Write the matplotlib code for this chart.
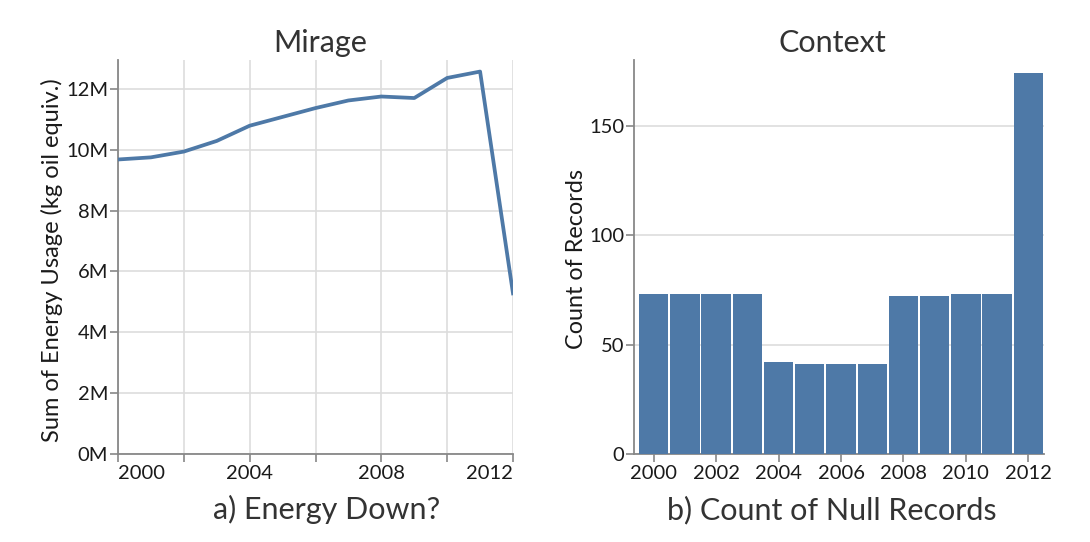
import matplotlib
matplotlib.use("Agg")
import matplotlib.pyplot as plt
import numpy as np

plt.rcParams['font.family'] = ['Lato', 'DejaVu Sans']

years = [2000, 2001, 2002, 2003, 2004, 2005, 2006, 2007, 2008, 2009, 2010, 2011, 2012]
energy_m = [9.68, 9.75, 9.94, 10.29, 10.79, 11.08, 11.37, 11.62, 11.75, 11.70, 12.36, 12.57, 5.28]
null_counts = [73, 73, 73, 73, 42, 41, 41, 41, 72, 72, 73, 73, 174]

left_title = "Mirage"
right_title = "Context"
left_caption = "a) Energy Down?"
right_caption = "b) Count of Null Records"
left_ylabel = "Sum of Energy Usage (kg oil equiv.)"
right_ylabel = "Count of Records"

blue = "#4e79a7"
text_c = "#333333"
label_c = "#1a1a1a"
grid_c = "#dddddd"
axis_c = "#888888"

TICK_FS = 14.5
TITLE_FS = 22

W, H = 1090, 542
fig = plt.figure(figsize=(W / 100, H / 100), dpi=100)

def ax_rect(x0, x1, y0, y1):
    return [x0 / W, 1 - y1 / H, (x1 - x0) / W, (y1 - y0) / H]

def style_axes(ax):
    for s in ['top', 'right']:
        ax.spines[s].set_visible(False)
    for s in ['left', 'bottom']:
        ax.spines[s].set_color(axis_c)
        ax.spines[s].set_linewidth(1.3)
    ax.tick_params(axis='both', colors=axis_c, labelcolor=label_c, labelsize=TICK_FS, length=6, width=1.2)
    ax.tick_params(axis='y', pad=1)
    ax.tick_params(axis='x', pad=2)
    ax.set_axisbelow(True)

# Left chart
ax1 = fig.add_axes(ax_rect(118, 513, 60, 454))
ax1.plot(years, [v * 1e6 for v in energy_m], color=blue, lw=2.7, solid_joinstyle='round', zorder=3)
ax1.set_xlim(2000, 2012)
ax1.set_ylim(0, 12.95e6)
yt = np.arange(0, 13e6, 2e6)
ax1.set_yticks(yt)
ax1.set_yticklabels([f"{int(v/1e6)}M" for v in yt])
ax1.set_xticks([2000, 2002, 2004, 2006, 2008, 2010, 2012])
ax1.set_xticklabels(["2000", "", "2004", "", "2008", "", "2012"])
ax1.grid(True, color=grid_c, lw=1.2, zorder=0)
style_axes(ax1)
xl = ax1.get_xticklabels()
xl[0].set_horizontalalignment('left')
xl[-1].set_horizontalalignment('right')
ax1.set_ylabel(left_ylabel, fontsize=17, color=label_c, labelpad=2.5)
ax1.yaxis.label.set_y(0.491)

# Right chart
ax2 = fig.add_axes(ax_rect(634, 1044, 60, 454))
ax2.bar(years, null_counts, width=0.94, color=blue, zorder=3)
ax2.set_xlim(1999.37, 2012.5)
ax2.set_ylim(0, 180)
ax2.set_yticks([0, 50, 100, 150])
ax2.set_xticks([2000, 2002, 2004, 2006, 2008, 2010, 2012])
ax2.yaxis.grid(True, color=grid_c, lw=1.2, zorder=0)
style_axes(ax2)
ax2.set_ylabel(right_ylabel, fontsize=16.8, color=label_c, labelpad=1.5)
ax2.yaxis.label.set_y(0.495)

# Titles and captions
fig.text(320 / W, 1 - 52 / H, left_title, ha='center', va='baseline', fontsize=TITLE_FS, color=text_c)
fig.text(832 / W, 1 - 52 / H, right_title, ha='center', va='baseline', fontsize=TITLE_FS, color=text_c)
fig.text(327 / W, 1 - 519 / H, left_caption, ha='center', va='baseline', fontsize=TITLE_FS, color=text_c)
fig.text(832 / W, 1 - 519 / H, right_caption, ha='center', va='baseline', fontsize=TITLE_FS, color=text_c)

fig.savefig("out.png", dpi=100, facecolor='white')
